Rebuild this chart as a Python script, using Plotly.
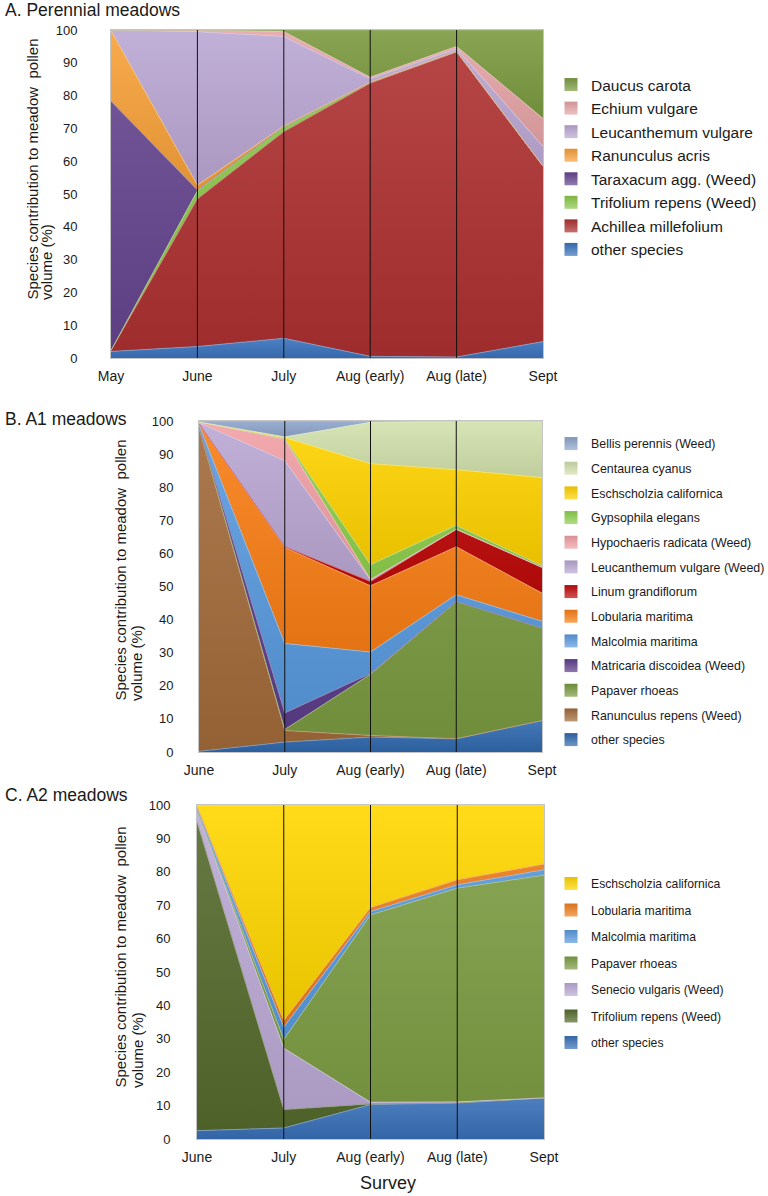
import plotly.graph_objects as go

# ---------------- data ----------------
categories_A = ["May", "June", "July", "Aug (early)", "Aug (late)", "Sept"]
categories_BC = ["June", "July", "Aug (early)", "Aug (late)", "Sept"]

# Panel A (stack bottom -> top)
other_A = [2, 3.5, 6, 0.5, 0.3, 5]
achillea = [0.3, 45, 63, 83.3, 93, 53.5]
trifolium_A = [0, 2.5, 1.5, 0.3, 0.2, 0]
taraxacum = [76, 0.2, 0, 0, 0, 0]
ranunculus_acris = [21.5, 1.5, 0.2, 0, 0, 0]
leucanthemum_A = [0.2, 46.8, 27.3, 1.0, 0.8, 6]
echium = [0, 0.5, 1.5, 0.5, 0.7, 8.5]
daucus = [0, 0, 0.5, 14.4, 5.0, 27]

# Panel B
other_B = [0.2, 3, 4.5, 4, 9.5]
ranunculus_repens = [97.8, 3.5, 0.5, 0, 0]
papaver_B = [0, 0.3, 18.5, 41.5, 28]
matricaria = [0.3, 5, 0.2, 0, 0]
malcolmia_B = [0.6, 21, 6.5, 2, 2]
lobularia_B = [0.3, 29, 20, 14.5, 8.5]
linum = [0, 0.2, 1.3, 5.3, 7.8]
leucanthemum_B = [0.3, 26, 0.5, 0, 0]
hypochaeris = [0.2, 6.5, 0.1, 0, 0]
gypsophila = [0, 0.3, 4.5, 1.2, 0.5]
eschscholzia_B = [0, 0.2, 30.5, 16.8, 26.6]
centaurea = [0, 0.2, 12.5, 14.7, 17.1]
bellis = [0.3, 4.8, 0.4, 0, 0]

# Panel C
other_C = [2.5, 3.3, 10.3, 10.8, 12.3]
trifolium_C = [92.5, 5.5, 0.2, 0, 0]
senecio = [3.5, 18.4, 0.5, 0.3, 0]
papaver_C = [0, 2.6, 56.1, 64, 66.7]
malcolmia_C = [0.8, 3.7, 1.0, 1.0, 1.6]
lobularia_C = [0.4, 2.0, 1.2, 1.5, 1.7]
eschscholzia_C = [0.3, 64.5, 30.7, 22.4, 17.7]

series_A = [
    ("other species", other_A, "#3B74BD"),
    ("Achillea millefolium", achillea, "#AE3131"),
    ("Trifolium repens (Weed)", trifolium_A, "#8CC84B"),
    ("Taraxacum agg. (Weed)", taraxacum, "#65468F"),
    ("Ranunculus acris", ranunculus_acris, "#F8A23A"),
    ("Leucanthemum vulgare", leucanthemum_A, "#BBA8D4"),
    ("Echium vulgare", echium, "#E7A5A8"),
    ("Daucus carota", daucus, "#7C9C41"),
]
series_B = [
    ("other species", other_B, "#3169AE"),
    ("Ranunculus repens (Weed)", ranunculus_repens, "#A26B3A"),
    ("Papaver rhoeas", papaver_B, "#7A9B40"),
    ("Matricaria discoidea (Weed)", matricaria, "#5E3F8C"),
    ("Malcolmia maritima", malcolmia_B, "#5B9BE0"),
    ("Lobularia maritima", lobularia_B, "#FA7F15"),
    ("Linum grandiflorum", linum, "#C00A0A"),
    ("Leucanthemum vulgare (Weed)", leucanthemum_B, "#BBA8D4"),
    ("Hypochaeris radicata (Weed)", hypochaeris, "#F2A1A6"),
    ("Gypsophila elegans", gypsophila, "#8FD04E"),
    ("Eschscholzia californica", eschscholzia_B, "#FFD400"),
    ("Centaurea cyanus", centaurea, "#D3E2AD"),
    ("Bellis perennis (Weed)", bellis, "#8FA7CC"),
]
series_C = [
    ("other species", other_C, "#3A71B8"),
    ("Trifolium repens (Weed)", trifolium_C, "#566B2E"),
    ("Senecio vulgaris (Weed)", senecio, "#BDAAD6"),
    ("Papaver rhoeas", papaver_C, "#7E9F45"),
    ("Malcolmia maritima", malcolmia_C, "#5B9BE0"),
    ("Lobularia maritima", lobularia_C, "#F07F1E"),
    ("Eschscholzia californica", eschscholzia_C, "#FFD700"),
]

W, H = 768, 1196
FONT = "Liberation Sans, Arial, sans-serif"
TXT = "#1a1a1a"


def _rgb(hexc):
    h = hexc.lstrip("#")
    return int(h[0:2], 16), int(h[2:4], 16), int(h[4:6], 16)


def lighten(hexc, f=0.35):
    r, g, b = _rgb(hexc)
    return f"rgb({int(r + (255 - r) * f)},{int(g + (255 - g) * f)},{int(b + (255 - b) * f)})"


def darken(hexc, f=0.15):
    r, g, b = _rgb(hexc)
    return f"rgb({int(r * (1 - f))},{int(g * (1 - f))},{int(b * (1 - f))})"


def px_x(p):  # window px -> paper
    return p / W


def px_y(p):
    return 1 - p / H


fig = go.Figure()

panels = [
    ("A", categories_A, series_A, "x", "y", "legend"),
    ("B", categories_BC, series_B, "x2", "y2", "legend2"),
    ("C", categories_BC, series_C, "x3", "y3", "legend3"),
]
for key, cats, series, xa, ya, lg in panels:
    # stacked areas (bottom to top)
    for name, vals, col in series:
        fig.add_trace(go.Scatter(
            x=cats, y=vals, name=name, mode="lines",
            stackgroup=key, fillcolor=col,
            fillgradient=dict(type="vertical",
                              colorscale=[[0, darken(col, 0.09)], [1, lighten(col, 0.1)]]),
            line=dict(color=lighten(col), width=0.8),
            xaxis=xa, yaxis=ya, showlegend=False,
        ))
    # legend swatches (top to bottom, as in reference)
    for name, vals, col in reversed(series):
        fig.add_trace(go.Scatter(
            x=[None], y=[None], name=name, mode="markers",
            marker=dict(symbol="square", size=13, color=darken(col, 0.1),
                        gradient=dict(type="vertical", color=lighten(col, 0.3)),
                        line=dict(width=0)),
            xaxis=xa, yaxis=ya, legend=lg, legendgroup=key + name,
            showlegend=True, hoverinfo="skip",
        ))

dom = {
    "A": ([px_x(111), px_x(543)], [px_y(358), px_y(30)]),
    "B": ([px_x(199), px_x(542)], [px_y(752), px_y(421)]),
    "C": ([px_x(197), px_x(544)], [px_y(1139), px_y(805)]),
}
standoff = {"A": 30, "B": 22, "C": 23}

layout = dict(
    width=W, height=H, margin=dict(l=0, r=0, t=0, b=0, autoexpand=False),
    paper_bgcolor="white", plot_bgcolor="white",
    font=dict(family=FONT, color=TXT, size=14),
    showlegend=True,
)
for i, (key, cats, series, xa, ya, lg) in enumerate(panels):
    sfx = "" if i == 0 else str(i + 1)
    xd, yd = dom[key]
    layout["xaxis" + sfx] = dict(
        domain=xd, anchor="y" + sfx, type="category",
        categoryorder="array", categoryarray=cats,
        range=[0, len(cats) - 1], showgrid=False, zeroline=False,
        showline=True, linecolor="#C4C4C4", linewidth=1, mirror=True,
        ticks="", tickfont=dict(size=14, color=TXT), ticklabelstandoff=5,
    )
    layout["yaxis" + sfx] = dict(
        domain=yd, anchor="x" + sfx, range=[0, 100], dtick=10,
        showgrid=False, zeroline=False,
        showline=True, linecolor="#C4C4C4", linewidth=1, mirror=True,
        ticks="", tickfont=dict(size=13, color=TXT),
        ticklabelstandoff=standoff[key],
    )

leg_common = dict(
    xanchor="left", yanchor="top", bgcolor="rgba(0,0,0,0)",
    traceorder="grouped", itemwidth=30,
)
layout["legend"] = dict(leg_common, x=px_x(551), y=px_y(68), tracegroupgap=0.4,
                        font=dict(size=15.5, color=TXT, family=FONT))
layout["legend2"] = dict(leg_common, x=px_x(551), y=px_y(429), tracegroupgap=5.55,
                         font=dict(size=12.4, color=TXT, family=FONT))
layout["legend3"] = dict(leg_common, x=px_x(551), y=px_y(869), tracegroupgap=7.5,
                         font=dict(size=12.2, color=TXT, family=FONT))

fig.update_layout(**layout)

# vertical reference lines at interior survey dates
for key, cats, series, xa, ya, lg in panels:
    for c in cats[1:-1]:
        fig.add_shape(type="line", xref=xa, yref=ya + " domain",
                      x0=c, x1=c, y0=0, y1=1,
                      line=dict(color="#111111", width=1))

# panel titles
for txt, py in [("A. Perennial meadows", 10), ("B. A1 meadows", 419), ("C. A2 meadows", 795)]:
    fig.add_annotation(text=txt, xref="paper", yref="paper", x=px_x(3), y=px_y(py),
                       xanchor="left", yanchor="middle", showarrow=False,
                       font=dict(size=17.5, color=TXT))

# y-axis titles (two lines, both starting at the same end)
line1 = "Species contribution to meadow  pollen"
line2 = "volume (%)"
for x1, x2, bottom in [(32, 47, 302), (120, 136, 703), (120, 137, 1090)]:
    for txt, cx in [(line1, x1), (line2, x2)]:
        fig.add_annotation(text=txt, xref="paper", yref="paper", x=px_x(cx), y=px_y(bottom),
                           xanchor="center", yanchor="bottom", textangle=-90,
                           showarrow=False, font=dict(size=15, color=TXT))

fig.add_annotation(text="Survey", xref="paper", yref="paper", x=px_x(388), y=px_y(1183),
                   xanchor="center", yanchor="middle", showarrow=False,
                   font=dict(size=18, color=TXT))

fig.write_html("out.html", config={"displayModeBar": False},
               post_script="document.body.style.margin='0';")
